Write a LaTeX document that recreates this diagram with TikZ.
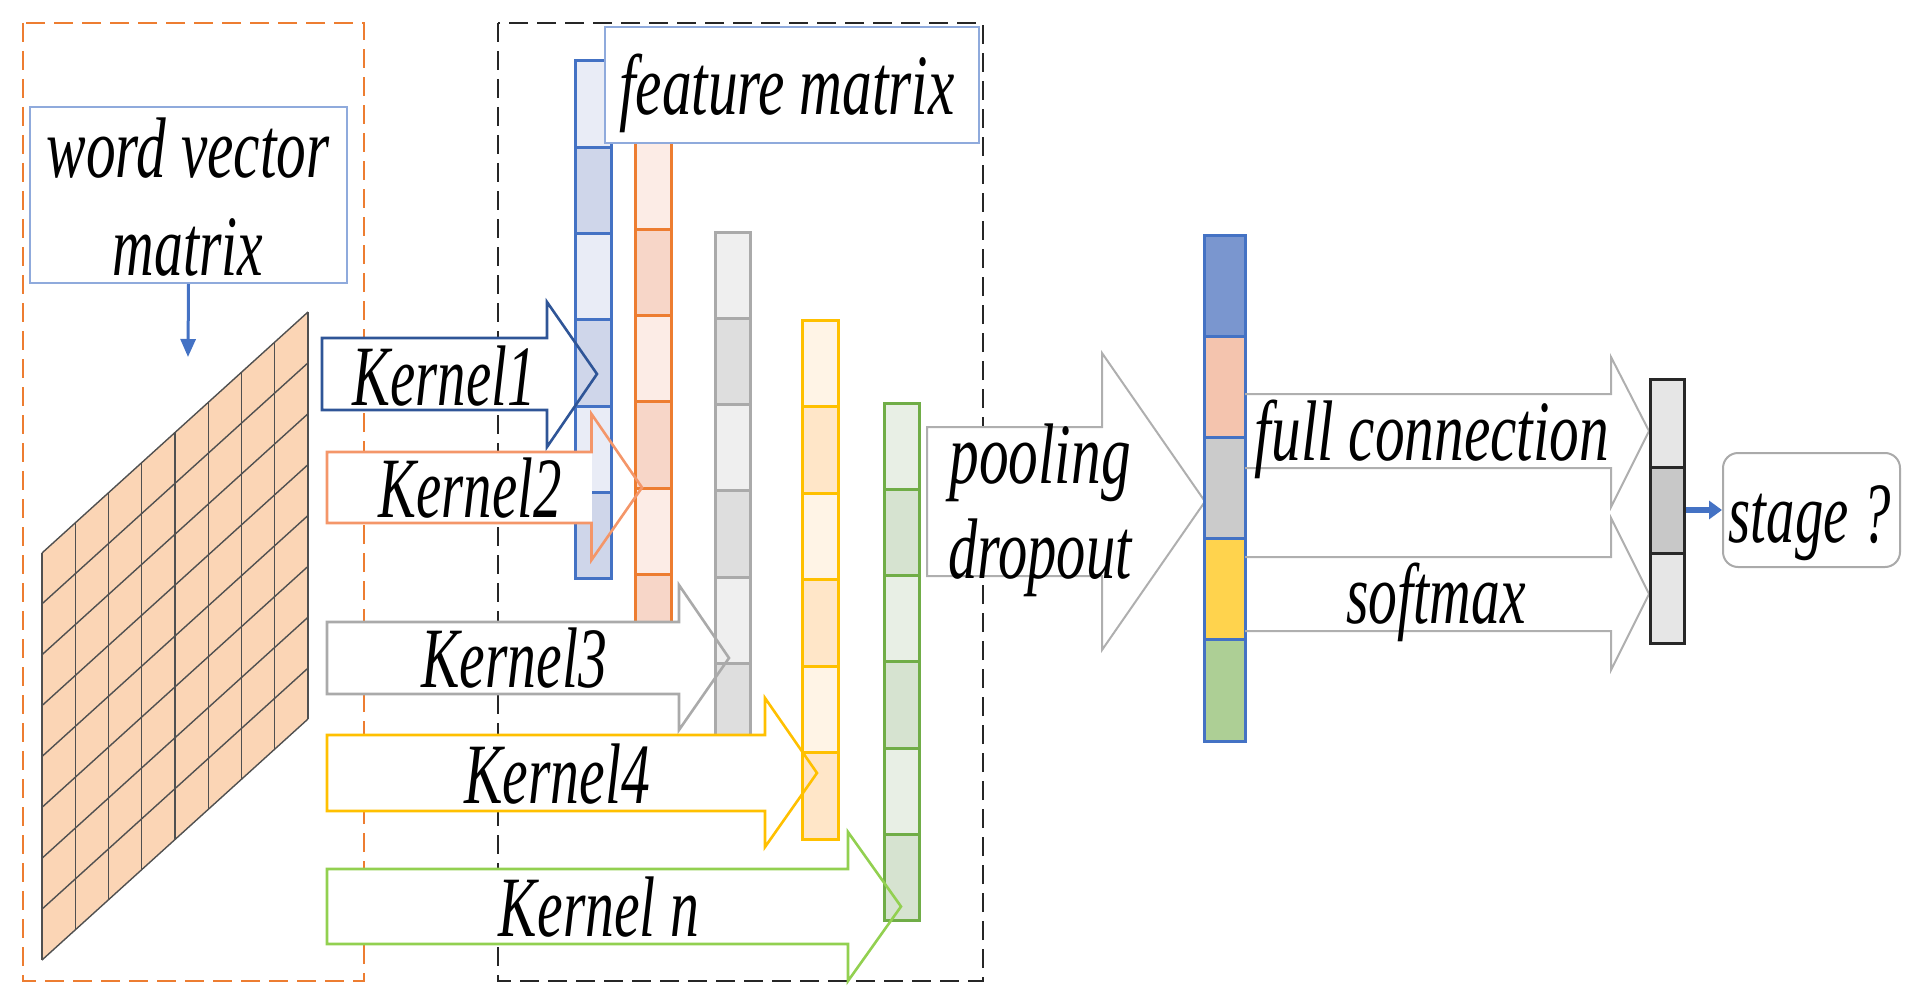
\documentclass[tikz,border=0pt]{standalone}
\usepackage{fontspec}
\setmainfont{Liberation Serif}
\usepackage{graphicx}
\usetikzlibrary{arrows.meta}

\definecolor{cOrDash}{RGB}{237,125,49}
\definecolor{cBoxBlue}{RGB}{143,170,220}
\definecolor{cBlue}{RGB}{68,114,196}
\definecolor{blueL}{RGB}{233,236,246}
\definecolor{blueD}{RGB}{207,214,234}
\definecolor{cOr}{RGB}{237,125,49}
\definecolor{orL}{RGB}{252,236,230}
\definecolor{orD}{RGB}{247,214,200}
\definecolor{cGr}{RGB}{170,170,170}
\definecolor{grL}{RGB}{239,239,239}
\definecolor{grD}{RGB}{222,222,222}
\definecolor{cYe}{RGB}{255,192,0}
\definecolor{yeL}{RGB}{255,244,230}
\definecolor{yeD}{RGB}{255,230,200}
\definecolor{cGn}{RGB}{112,173,71}
\definecolor{gnL}{RGB}{232,239,229}
\definecolor{gnD}{RGB}{214,227,208}
\definecolor{kOne}{RGB}{47,85,151}
\definecolor{kTwo}{RGB}{244,150,105}
\definecolor{kThree}{RGB}{170,170,170}
\definecolor{kFour}{RGB}{255,192,0}
\definecolor{kN}{RGB}{146,208,80}
\definecolor{arrGray}{RGB}{175,175,175}
\definecolor{matFill}{RGB}{251,213,181}
\definecolor{matLine}{RGB}{80,80,80}
\definecolor{pBlue}{RGB}{122,150,207}
\definecolor{pPink}{RGB}{244,196,174}
\definecolor{pGray}{RGB}{203,203,203}
\definecolor{pYellow}{RGB}{255,211,77}
\definecolor{pGreen}{RGB}{173,207,149}
\definecolor{outL}{RGB}{230,230,230}
\definecolor{outD}{RGB}{200,200,200}
\definecolor{outBorder}{RGB}{40,40,40}
\definecolor{stageBorder}{RGB}{170,170,170}
\definecolor{arrBlue}{RGB}{68,114,196}

\newcommand\tx[2][0.66]{\scalebox{#1}[1]{\itshape #2}}

% vertical feature column: x1, x2, ytop, cell height, n, border, light, dark
\newcommand\vcol[8]{%
  \foreach \i in {1,...,#5}{%
    \pgfmathsetmacro\cya{#3+(\i-1)*#4}%
    \pgfmathsetmacro\cyb{#3+\i*#4}%
    \pgfmathtruncatemacro\codd{mod(\i,2)}%
    \ifnum\codd=1 \def\cfc{#7}\else\def\cfc{#8}\fi
    \filldraw[fill=\cfc, draw=#6, line width=1.5pt] (#1,\cya) rectangle (#2,\cyb);
  }}

% block arrow: left, shaft top, shaft bottom, head x, head top, head bottom, tip x, colour
\newcommand\blockarrow[8]{%
  \pgfmathsetmacro\bamid{(#2+#3)/2}%
  \fill[white] (#1,#2) rectangle (#4,#3);
  \draw[draw=#8, line width=1.3pt, line join=miter] (#1,#2) -- (#4,#2) -- (#4,#5) -- (#7,\bamid) -- (#4,#6) -- (#4,#3) -- (#1,#3) -- cycle;
}

\tikzset{
  lbl/.style={anchor=base, inner sep=0pt, font=\fontsize{43pt}{50pt}\selectfont},
  dashbox/.style={line width=1.25pt, dash pattern=on 9.5pt off 4.5pt},
  tbox/.style={draw=cBoxBlue, line width=1pt, fill=white, inner sep=0pt},
  outcell/.style={draw=outBorder, line width=1.5pt, inner sep=0pt, minimum width=17pt},
  grayarrow/.style={draw=arrGray, line width=1pt, line join=miter}
}

\begin{document}
\begin{tikzpicture}[x=0.5pt,y=-0.5pt]
\useasboundingbox (0,0) rectangle (1923,1006);

% dashed group boxes
\draw[dashbox, draw=cOrDash] (23,23) rectangle (364,981);
\draw[dashbox, draw=black!85] (498,23) rectangle (983,981);

% word vector matrix (parallelogram grid)
\fill[matFill] (42,553) -- (308,312) -- (308,719) -- (42,960) -- cycle;
\foreach \u in {0,...,8}{
  \pgfmathsetmacro\gx{42+\u*33.25}
  \pgfmathsetmacro\gya{553-\u*30.125}
  \pgfmathsetmacro\gyb{960-\u*30.125}
  \draw[matLine, line width=0.7pt] (\gx,\gya) -- (\gx,\gyb);
}
\foreach \v in {0,...,8}{
  \pgfmathsetmacro\gya{553+\v*50.875}
  \pgfmathsetmacro\gyb{312+\v*50.875}
  \draw[matLine, line width=0.7pt] (42,\gya) -- (308,\gyb);
}

% feature columns
\vcol{575}{611}{61}{86.3}{6}{cBlue}{blueL}{blueD}
\vcol{635}{671}{143}{86.3}{6}{cOr}{orL}{orD}
\vcol{715}{750}{232}{86.3}{6}{cGr}{grL}{grD}
\vcol{802}{838}{320}{86.5}{6}{cYe}{yeL}{yeD}
\vcol{884}{919}{403}{86.3}{6}{cGn}{gnL}{gnD}

% kernel arrows
\blockarrow{322}{338}{410}{547}{302}{447}{597}{kOne}
\blockarrow{327}{452}{523}{591.5}{414}{560}{642}{kTwo}
\blockarrow{327}{622}{694}{679}{585}{730}{729}{kThree}
\blockarrow{327}{735}{811}{765}{698}{847}{817}{kFour}
\blockarrow{327}{869}{944}{848}{832}{981}{901}{kN}

% pooling arrow
\fill[white] (927,427) rectangle (1102,576);
\draw[grayarrow] (927,427) -- (1102,427) -- (1102,353) -- (1205,501.5) -- (1102,650) -- (1102,576) -- (927,576) -- cycle;

% pooled vector
\filldraw[fill=pBlue, draw=cBlue, line width=1.5pt] (1204,235) rectangle (1245,336);
\filldraw[fill=pPink, draw=cBlue, line width=1.5pt] (1204,336) rectangle (1245,437);
\filldraw[fill=pGray, draw=cBlue, line width=1.5pt] (1204,437) rectangle (1245,538);
\filldraw[fill=pYellow, draw=cBlue, line width=1.5pt] (1204,538) rectangle (1245,639);
\filldraw[fill=pGreen, draw=cBlue, line width=1.5pt] (1204,639) rectangle (1245,741);

% full connection / softmax arrows
\draw[grayarrow] (1245,394) -- (1611,394) -- (1611,357) -- (1649,431) -- (1611,507) -- (1611,468) -- (1245,468);
\draw[grayarrow] (1245,557) -- (1611,557) -- (1611,518) -- (1649,594) -- (1611,670) -- (1611,631) -- (1245,631);

% output vector
\node[outcell, fill=outL, minimum height=44pt] (o1) at (1667,423) {};
\node[outcell, fill=outD, minimum height=43pt] (o2) at (1667,510) {};
\node[outcell, fill=outL, minimum height=45pt] (o3) at (1667,598) {};

% stage box
\node[draw=stageBorder, line width=1pt, rounded corners=7.5pt, minimum width=88.5pt, minimum height=57pt, inner sep=0pt] (stage) at (1811.5,510) {};
\node[lbl] (tstage) at (1810,542) {\tx{stage ?}};
\draw[arrBlue, line width=3pt, -{Triangle[length=6.5pt,width=9pt]}] (o2.east) -- (stage.west);

% word vector matrix label box
\node[tbox, minimum width=158.5pt, minimum height=88pt] (wvbox) at (188.5,195) {};
\node[lbl] (twv1) at (188,177) {\tx[0.69]{word vector}};
\node[lbl] (twv2) at (188,275) {\tx[0.67]{matrix}};
\coordinate (wvend) at (188,357);
\draw[arrBlue, line width=1.5pt, -{Triangle[length=9pt,width=7.5pt]}] (wvbox.south) -- (wvend);

% feature matrix label box
\node[tbox, minimum width=187pt, minimum height=58pt] (fmbox) at (792,85) {};
\node[lbl] (tfm) at (787,115) {\tx[0.69]{feature matrix}};

% kernel labels
\node[lbl] (tk1) at (444,405) {\tx{Kernel1}};
\node[lbl] (tk2) at (470,517) {\tx{Kernel2}};
\node[lbl] (tk3) at (514,687) {\tx[0.67]{Kernel3}};
\node[lbl] (tk4) at (557,803) {\tx[0.67]{Kernel4}};
\node[lbl] (tkn) at (599,936) {\tx[0.67]{Kernel n}};

% other labels
\node[lbl] (tpool) at (1040,483) {\tx[0.69]{pooling}};
\node[lbl] (tdrop) at (1040,578) {\tx[0.68]{dropout}};
\node[lbl] (tfc) at (1432,460) {\tx[0.69]{full connection}};
\node[lbl] (tsoft) at (1436,623) {\tx[0.67]{softmax}};
\end{tikzpicture}
\end{document}
